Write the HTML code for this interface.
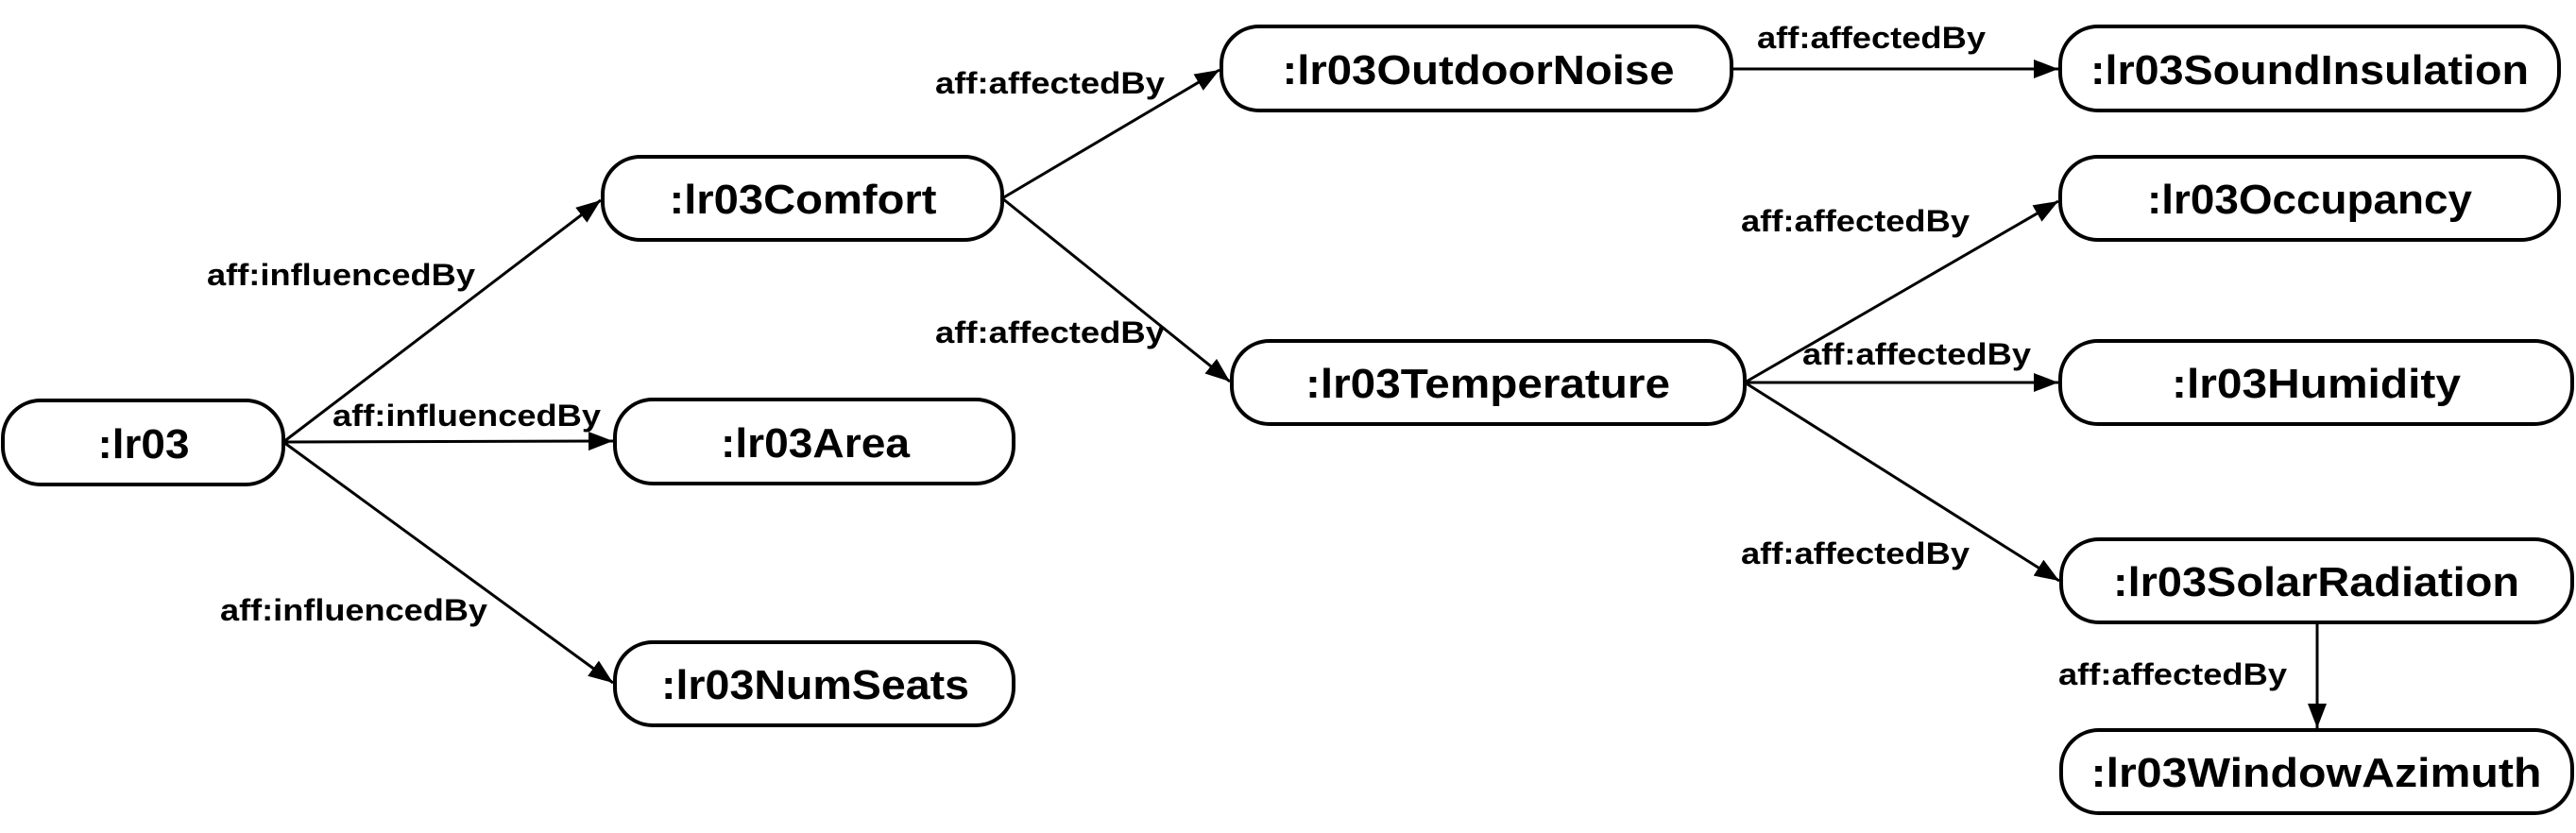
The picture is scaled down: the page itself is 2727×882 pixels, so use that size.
<!DOCTYPE html>
<html><head><meta charset="utf-8"><style>html,body{margin:0;padding:0;background:#fff}svg{display:block}</style></head>
<body>
<svg width="2727" height="882" viewBox="0 0 2727 882" xmlns="http://www.w3.org/2000/svg">
<defs>
<marker id="ah" viewBox="0 0 26 20" refX="26" refY="10" markerWidth="26" markerHeight="20" markerUnits="userSpaceOnUse" orient="auto"><path d="M0,0 L26,10 L0,20 z" fill="#000"/></marker>
</defs>
<g fill="#fff" stroke="#000" stroke-width="4">
<rect x="3" y="424" width="297" height="89" rx="40"/>
<rect x="638" y="166" width="423" height="88" rx="40"/>
<rect x="651" y="423" width="422" height="89" rx="40"/>
<rect x="651" y="680" width="422" height="88" rx="40"/>
<rect x="1293" y="28" width="540" height="89" rx="40"/>
<rect x="1304" y="361" width="543" height="88" rx="40"/>
<rect x="2181" y="28" width="528" height="89" rx="40"/>
<rect x="2181" y="166" width="528" height="88" rx="40"/>
<rect x="2181" y="361" width="542" height="88" rx="40"/>
<rect x="2182" y="571" width="541" height="88" rx="40"/>
<rect x="2182" y="773" width="541" height="88" rx="40"/>
</g>
<g stroke="#000" stroke-width="3" fill="none" marker-end="url(#ah)">
<line x1="300" y1="468" x2="636" y2="212"/>
<line x1="300" y1="468" x2="649" y2="467"/>
<line x1="300" y1="468" x2="649" y2="723"/>
<line x1="1061" y1="210" x2="1291" y2="74"/>
<line x1="1061" y1="210" x2="1302" y2="404"/>
<line x1="1833" y1="73" x2="2179" y2="73"/>
<line x1="1847" y1="405" x2="2179" y2="213"/>
<line x1="1847" y1="405" x2="2179" y2="405"/>
<line x1="1847" y1="405" x2="2180" y2="615"/>
<line x1="2453" y1="659" x2="2453" y2="771"/>
</g>
<g font-family="'Liberation Sans', sans-serif" font-weight="bold" font-size="44" text-anchor="middle" fill="#000">
<text x="152" y="485" textLength="97" lengthAdjust="spacingAndGlyphs">:lr03</text>
<text x="850" y="226" textLength="283" lengthAdjust="spacingAndGlyphs">:lr03Comfort</text>
<text x="863" y="484" textLength="200" lengthAdjust="spacingAndGlyphs">:lr03Area</text>
<text x="863" y="740" textLength="326" lengthAdjust="spacingAndGlyphs">:lr03NumSeats</text>
<text x="1565" y="89" textLength="415" lengthAdjust="spacingAndGlyphs">:lr03OutdoorNoise</text>
<text x="1575" y="421" textLength="386" lengthAdjust="spacingAndGlyphs">:lr03Temperature</text>
<text x="2445" y="89" textLength="464" lengthAdjust="spacingAndGlyphs">:lr03SoundInsulation</text>
<text x="2445" y="226" textLength="344" lengthAdjust="spacingAndGlyphs">:lr03Occupancy</text>
<text x="2452" y="421" textLength="306" lengthAdjust="spacingAndGlyphs">:lr03Humidity</text>
<text x="2452" y="631" textLength="430" lengthAdjust="spacingAndGlyphs">:lr03SolarRadiation</text>
<text x="2452" y="833" textLength="477" lengthAdjust="spacingAndGlyphs">:lr03WindowAzimuth</text>
</g>
<g font-family="'Liberation Sans', sans-serif" font-weight="bold" font-size="32" fill="#000">
<text x="219" y="302" textLength="284" lengthAdjust="spacingAndGlyphs">aff:influencedBy</text>
<text x="352" y="451" textLength="284" lengthAdjust="spacingAndGlyphs">aff:influencedBy</text>
<text x="233" y="657" textLength="283" lengthAdjust="spacingAndGlyphs">aff:influencedBy</text>
<text x="990" y="99" textLength="243" lengthAdjust="spacingAndGlyphs">aff:affectedBy</text>
<text x="990" y="363" textLength="243" lengthAdjust="spacingAndGlyphs">aff:affectedBy</text>
<text x="1860" y="51" textLength="242" lengthAdjust="spacingAndGlyphs">aff:affectedBy</text>
<text x="1843" y="245" textLength="242" lengthAdjust="spacingAndGlyphs">aff:affectedBy</text>
<text x="1908" y="386" textLength="242" lengthAdjust="spacingAndGlyphs">aff:affectedBy</text>
<text x="1843" y="597" textLength="242" lengthAdjust="spacingAndGlyphs">aff:affectedBy</text>
<text x="2179" y="725" textLength="242" lengthAdjust="spacingAndGlyphs">aff:affectedBy</text>
</g>
</svg>
</body></html>
